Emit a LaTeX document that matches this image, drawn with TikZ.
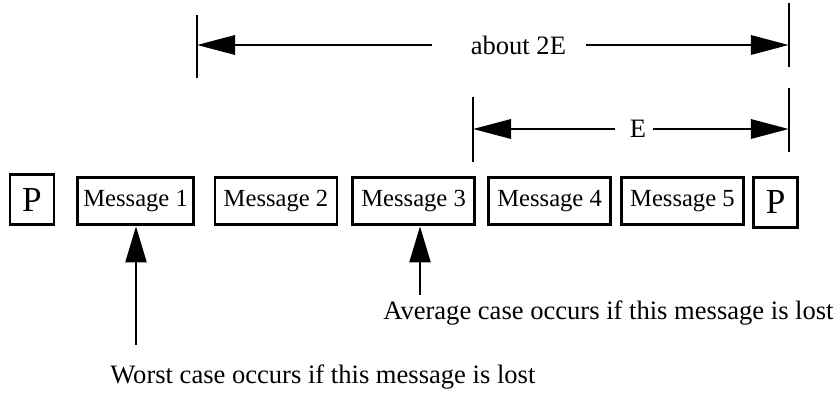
\documentclass[tikz,border=0pt]{standalone}
\usepackage{fontspec}
\setmainfont{Liberation Serif}
\usetikzlibrary{arrows.meta}

\begin{document}
\begin{tikzpicture}[
    msg/.style={draw, line width=2pt, minimum width=3.05cm, minimum height=1.175cm,
      inner sep=0pt, font=\fontsize{17.5}{21}\selectfont},
    pkt/.style={draw, line width=2pt, minimum width=1.1cm, minimum height=1.25cm,
      inner sep=0pt, font=\fontsize{25}{29}\selectfont},
    lbl/.style={inner sep=0pt, font=\fontsize{18.9}{22}\selectfont},
    tick/.style={line width=1.8pt},
    dim/.style={line width=2pt, -{Triangle[length=0.95cm, width=0.48cm]}},
    ptr/.style={line width=2pt, -{Triangle[length=0.9cm, width=0.52cm]}}
  ]
    \useasboundingbox (0,0) rectangle (20.95,9.875);
    % the stream of frames
    \node[pkt] (p1) at (0.8,4.88) {P};
    \node[msg, minimum width=2.9cm] (m1) at (3.39,4.84) {Message 1};
    \node[msg] (m2) at (6.9,4.84) {Message 2};
    \node[msg] (m3) at (10.34,4.84) {Message 3};
    \node[msg] (m4) at (13.74,4.84) {Message 4};
    \node[msg] (m5) at (17.06,4.84) {Message 5};
    \node[pkt] (p2) at (19.39,4.82) {P};
    % span markers
    \draw[tick] (4.925,7.925) -- (4.925,9.5);
    \draw[tick] (19.72,8.2) -- (19.72,9.8);
    \draw[tick] (11.825,5.825) -- (11.825,7.45);
    \draw[tick] (19.72,6.075) -- (19.72,7.675);
    \coordinate (twoL) at (4.925,8.75);
    \coordinate (twoR) at (19.72,8.75);
    \coordinate (oneL) at (11.825,6.65);
    \coordinate (oneR) at (19.72,6.65);
    \node[lbl] (twoE) at (12.96,8.75) {about 2E};
    \node[lbl] (oneE) at (15.95,6.65) {E};
    \draw[dim] ([xshift=-0.975cm]twoE.west) -- (twoL);
    \draw[dim] ([xshift=0.5cm]twoE.east) -- (twoR);
    \draw[dim] ([xshift=-0.375cm]oneE.west) -- (oneL);
    \draw[dim] ([xshift=0.175cm]oneE.east) -- (oneR);
    % lost messages
    \node[lbl, anchor=base west] (avg) at (9.575,1.875)
      {Average case occurs if this message is lost};
    \node[lbl, anchor=base west] (worst) at (2.75,0.28)
      {Worst case occurs if this message is lost};
    \coordinate (avgTail) at (10.5,2.5);
    \coordinate (worstTail) at (3.4,1.25);
    \draw[ptr] (worstTail) -- (worstTail |- m1.south);
    \draw[ptr] (avgTail) -- (avgTail |- m3.south);
\end{tikzpicture}
\end{document}
